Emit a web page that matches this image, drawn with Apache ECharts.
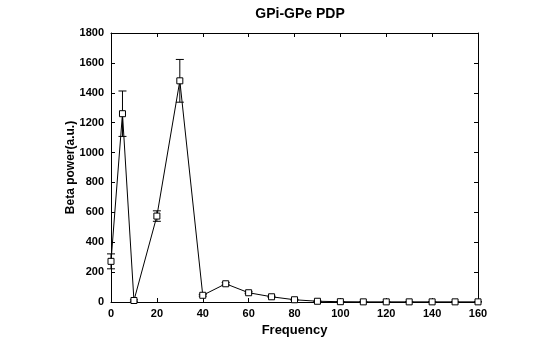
<!DOCTYPE html>
<html>
<head>
<meta charset="utf-8">
<script src="https://cdn.jsdelivr.net/npm/echarts@6/dist/echarts.min.js"></script>
<style>
    html, body { margin: 0; padding: 0; background: #fff; }
    #chart { width: 545px; height: 348px; }
</style>
</head>
<body>
<div id="chart"></div>
<script>
// frequencies and beta power means
const freqs = [0, 5, 10, 20, 30, 40, 50, 60, 70, 80, 90, 100, 110, 120, 130, 140, 150, 160];
const power = [272, 1260, 10, 575, 1480, 45, 122, 62, 35, 15, 5, 2, 1, 1, 1, 1, 1, 1];
// error bar half-widths
const errs = [50, 152, 5, 35, 143, 6, 8, 6, 4, 3, 2, 1, 0, 0, 0, 0, 0, 0];

const font = 'Liberation Sans, Arial, sans-serif';

const chart = echarts.init(document.getElementById('chart'));

const axisCommon = {
    axisLine: {show: true, onZero: false, lineStyle: {color: '#000', width: 1}},
    axisTick: {show: true, inside: true, length: 4, lineStyle: {color: '#000'}},
    splitLine: {show: false},
};

chart.setOption({
    animation: false,
    title: {
        text: 'GPi-GPe PDP',
        left: 295,
        top: 2,
        textAlign: 'center',
        textStyle: {fontFamily: font, fontSize: 14, fontWeight: 'bold', color: '#000'},
    },
    grid: {left: 111, right: 67, top: 33, bottom: 46},
    xAxis: [
        {
            type: 'value', min: 0, max: 160, interval: 20, position: 'bottom',
            name: 'Frequency', nameLocation: 'middle', nameGap: 20,
            nameTextStyle: {fontFamily: font, fontSize: 13, fontWeight: 'bold', color: '#000'},
            axisLabel: {fontFamily: font, fontSize: 11, fontWeight: 'bold', color: '#000', margin: 6},
            ...axisCommon,
        },
        {
            type: 'value', min: 0, max: 160, interval: 20, position: 'top',
            axisLabel: {show: false},
            ...axisCommon,
        },
    ],
    yAxis: [
        {
            type: 'value', min: 0, max: 1800, interval: 200, position: 'left',
            name: 'Beta power(a.u.)', nameLocation: 'middle', nameGap: 34,
            nameMoveOverlap: false,
            nameTextStyle: {fontFamily: font, fontSize: 12, fontWeight: 'bold', color: '#000'},
            axisLabel: {fontFamily: font, fontSize: 11, fontWeight: 'bold', color: '#000', margin: 7,
                formatter: (v) => String(v)},
            ...axisCommon,
        },
        {
            type: 'value', min: 0, max: 1800, interval: 200, position: 'right',
            axisLabel: {show: false},
            ...axisCommon,
        },
    ],
    series: [
        {
            type: 'line',
            data: freqs.map((f, i) => [f, power[i]]),
            symbol: 'rect',
            symbolSize: 6,
            itemStyle: {color: '#fff', borderColor: '#000', borderWidth: 1},
            lineStyle: {color: '#000', width: 1},
            z: 3,
        },
        {
            type: 'custom',
            data: freqs.map((f, i) => [f, power[i] - errs[i], power[i] + errs[i]]),
            renderItem: (params, api) => {
                const lo = api.coord([api.value(0), api.value(1)]);
                const hi = api.coord([api.value(0), api.value(2)]);
                const w = 4;
                const style = {stroke: '#000', lineWidth: 1};
                return {
                    type: 'group',
                    children: [
                        {type: 'line', shape: {x1: lo[0], y1: lo[1], x2: hi[0], y2: hi[1]}, style},
                        {type: 'line', shape: {x1: lo[0] - w, y1: lo[1], x2: lo[0] + w, y2: lo[1]}, style},
                        {type: 'line', shape: {x1: hi[0] - w, y1: hi[1], x2: hi[0] + w, y2: hi[1]}, style},
                    ],
                };
            },
            z: 2,
        },
    ],
});
</script>
</body>
</html>
